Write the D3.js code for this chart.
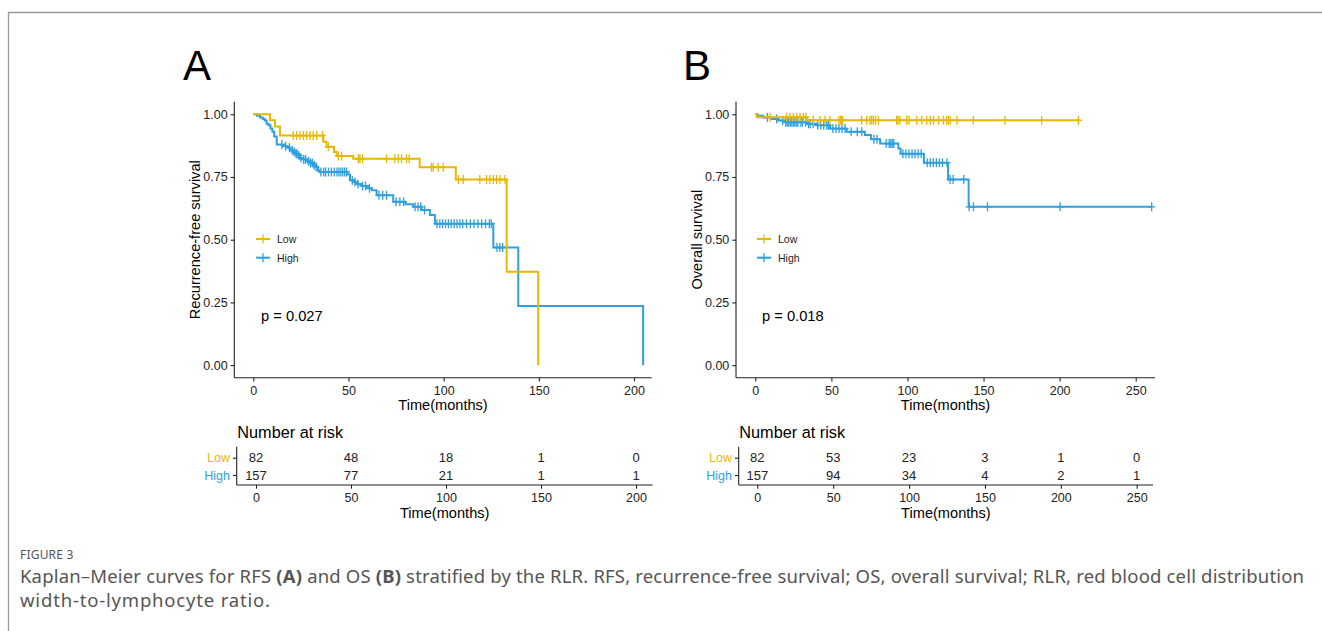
<!DOCTYPE html>
<html>
<head>
<meta charset="utf-8">
<script src="https://cdn.jsdelivr.net/npm/d3@7"></script>
<style>
  body { margin: 0; background: #fff; }
  svg text { font-family: "Liberation Sans", Arial, sans-serif; }
  .caption { font-family: "Noto Sans", "Open Sans", sans-serif; fill: #555; }
</style>
</head>
<body>
<script>
// ---- data ----
const lowColor = '#E7B800';
const highColor = '#2E9FDF';

const survTicks = [0, 0.25, 0.5, 0.75, 1];
const rfsTimeTicks = [0, 50, 100, 150, 200];
const osTimeTicks = [0, 50, 100, 150, 200, 250];
const groups = ['Low', 'High'];

// RFS step points [months, survival]
const rfsLowSteps = [[0,1],[8.8,0.976],[11.4,0.951],[14,0.915],[36.8,0.890],[38.5,0.870],[42.4,0.850],
  [43.8,0.834],[52.5,0.823],[87.4,0.789],[106.4,0.740],[133.1,0.372],[149.7,0]];
const rfsLowCensor = [21,22.8,24.5,26.3,28,29.8,31.5,33.3,36.4,39.4,44.7,46.4,55.2,56,57.4,70,74.4,76.2,
  77.9,80.5,81.9,93.6,94.5,97.1,99.8,107.7,110.3,119,122.5,124.3,126.1,127.8,129.6,132.2];
const rfsHighSteps = [[0,1],[2,0.994],[3.5,0.987],[5,0.981],[6,0.975],[7,0.962],[8,0.956],[9,0.943],
  [10,0.930],[11,0.911],[12.3,0.879],[16,0.872],[18,0.866],[19.3,0.857],[21,0.850],[22,0.843],[23.5,0.836],
  [24.5,0.826],[26,0.820],[28,0.813],[30,0.806],[31.5,0.797],[33,0.790],[34,0.777],[35,0.770],[49.5,0.760],
  [50.8,0.737],[53,0.730],[54.5,0.722],[57,0.714],[60,0.705],[62.2,0.697],[64.8,0.677],[73.5,0.651],
  [80,0.641],[84,0.631],[88.4,0.618],[92.8,0.598],[95.4,0.564],[126.1,0.469],[139.2,0.236],[204.8,0]];
const rfsHighCensor = [15,17,19,20.5,21.5,22.5,23,24,25,26.5,27.5,29,30,31,32,33,35.5,37,38,39.5,41,42.5,
  44,45,46,47,48,49,52,53.5,55,57.5,59,61,66,68,70,75,77,79,85,86.5,88,90,96.5,98,99.5,101,102.5,104,
  105.5,107,108.5,110,112,114,116,118,120,122,124,125,128,129.5,131];
const rfsRiskLow = [82, 48, 18, 1, 0];
const rfsRiskHigh = [157, 77, 21, 1, 1];

// OS step points
const osLowSteps = [[0,1],[1,0.988],[33.8,0.976],[213.4,0.976]];
const osLowCensor = [9.7,20.6,22.8,25,27.2,29.4,31.6,33.3,38.1,42.5,45.8,49.1,55,56,56.8,57.5,69.9,73.2,
  75.4,76.5,77.6,79,80.9,92.9,93.8,95.1,99.5,101,106.1,109.4,112.7,115,117.1,120.4,123.7,125.9,127,128.1,
  132.5,143.3,164.1,188.2,212.3];
const osHighSteps = [[0,1],[1.5,0.994],[5,0.987],[10.8,0.981],[15,0.975],[20,0.968],[33.8,0.962],
  [40,0.956],[49,0.943],[60,0.930],[72,0.917],[76,0.900],[82,0.883],[94,0.863],[95.5,0.843],[110.8,0.807],
  [126.7,0.740],[140.2,0.631],[260.5,0.631]];
const osHighCensor = [8,14,18,20,21,22,23,24,25,26,27,28,30,31,33,35,36,38,41,43,45,47,48,51,53,55,57,59,
  63,67,70,78,80,86,88,89,90,91,97,99,101,103,105,107,109,113,115,117,119,121,123,126,128,130,137,140.5,
  143.4,152.6,200.3,260.5];
const osRiskLow = [82, 53, 23, 3, 1, 0];
const osRiskHigh = [157, 94, 34, 4, 2, 1];

// ---- layout ----
const W = 1322, H = 631;
const svg = d3.select('body').append('svg')
    .attr('width', W)
    .attr('height', H);

svg.append('path')
    .attr('d', 'M8.5,' + H + 'V12.5H' + W)
    .attr('fill', 'none')
    .attr('stroke', '#9a9a9a')
    .attr('stroke-width', 1.3);

const panels = [
  {letter: 'A', lx: 183, ylabel: 'Recurrence-free survival', p: 'p = 0.027',
   axisX: 234.3, axisEnd: 651.7, t0: 253.3, tRef: 200, tRefX: 634,
   riskAxisX: 236.7, riskEnd: 652.7, r0: 256, rRefX: 636,
   ticks: rfsTimeTicks, legX: 256, ylabX: 195,
   curves: [{steps: rfsLowSteps, censor: rfsLowCensor, color: lowColor},
            {steps: rfsHighSteps, censor: rfsHighCensor, color: highColor}],
   risk: [rfsRiskLow, rfsRiskHigh]},
  {letter: 'B', lx: 683, ylabel: 'Overall survival', p: 'p = 0.018',
   axisX: 736, axisEnd: 1155, t0: 755.3, tRef: 250, tRefX: 1135.7,
   riskAxisX: 738.7, riskEnd: 1153, r0: 757.3, rRefX: 1136.7,
   ticks: osTimeTicks, legX: 757, ylabX: 696.7,
   curves: [{steps: osLowSteps, censor: osLowCensor, color: lowColor},
            {steps: osHighSteps, censor: osHighCensor, color: highColor}],
   risk: [osRiskLow, osRiskHigh]}
];

const yTop = 101.7, yBot = 377.7;
const y = d3.scaleLinear().domain([-0.05, 1.05]).range([yBot, yTop]);
const plus = 'M-3.5,0H3.5M0,-4.5V4.5';

function survAt(steps, t) {
  let s = steps[0][1];
  for (const p of steps) { if (p[0] <= t) s = p[1]; }
  return s;
}

panels.forEach(function(cfg) {
  const x = d3.scaleLinear()
      .domain([0, cfg.tRef])
      .range([cfg.t0, cfg.tRefX]);
  const g = svg.append('g');

  g.append('text')
      .attr('x', cfg.lx).attr('y', 80)
      .attr('font-size', 42)
      .attr('fill', '#000')
      .text(cfg.letter);

  // axes
  const xAxis = d3.axisBottom(x).tickValues(cfg.ticks).tickFormat(d3.format('d')).tickSizeOuter(0).tickSize(3.7);
  const yAxis = d3.axisLeft(y).tickValues(survTicks).tickFormat(d3.format('.2f')).tickSizeOuter(0).tickSize(3.7);

  const gx = g.append('g')
      .attr('transform', 'translate(0,' + yBot + ')')
      .call(xAxis);
  gx.select('.domain').attr('d', 'M' + cfg.axisX + ',0H' + cfg.axisEnd);
  const gy = g.append('g')
      .attr('transform', 'translate(' + cfg.axisX + ',0)')
      .call(yAxis);
  gy.select('.domain').attr('d', 'M0,' + yTop + 'V' + yBot);
  g.selectAll('.tick text').attr('font-size', 12.5).attr('fill', '#222')
      .attr('font-family', '"Liberation Sans", Arial, sans-serif');
  gx.selectAll('.tick text').attr('dy', '0.85em');
  g.selectAll('.domain, .tick line').attr('stroke', '#222').attr('stroke-width', 1.1);

  g.append('text')
      .attr('transform', 'translate(' + cfg.ylabX + ',' + ((yTop + yBot) / 2) + ') rotate(-90)')
      .attr('text-anchor', 'middle')
      .attr('dominant-baseline', 'central')
      .attr('font-size', 14.6)
      .text(cfg.ylabel);
  g.append('text')
      .attr('x', (cfg.axisX + cfg.axisEnd) / 2).attr('y', 410)
      .attr('text-anchor', 'middle')
      .attr('font-size', 14.6)
      .text('Time(months)');

  // curves
  const line = d3.line()
      .x(d => x(d[0]))
      .y(d => y(d[1]))
      .curve(d3.curveStepAfter);
  cfg.curves.slice().reverse().forEach(function(c) {
    g.append('path')
        .datum(c.steps)
        .attr('d', line)
        .attr('fill', 'none')
        .attr('stroke', c.color)
        .attr('stroke-width', 2);
    g.selectAll(null)
        .data(c.censor)
        .enter().append('path')
        .attr('d', plus)
        .attr('transform', d => 'translate(' + x(d) + ',' + y(survAt(c.steps, d)) + ')')
        .attr('stroke', c.color)
        .attr('stroke-width', 1.3)
        .attr('fill', 'none');
  });

  // legend
  const legY = [239, 257.7];
  groups.forEach(function(name, i) {
    const c = cfg.curves[i];
    g.append('path')
        .attr('d', 'M' + cfg.legX + ',' + legY[i] + 'H' + (cfg.legX + 14))
        .attr('stroke', c.color).attr('stroke-width', 2);
    g.append('path')
        .attr('d', plus)
        .attr('transform', 'translate(' + (cfg.legX + 7) + ',' + legY[i] + ')')
        .attr('stroke', c.color).attr('stroke-width', 1.3);
    g.append('text')
        .attr('x', cfg.legX + 21).attr('y', legY[i])
        .attr('dominant-baseline', 'central')
        .attr('font-size', 10.5)
        .attr('fill', '#222')
        .text(name);
  });

  g.append('text')
      .attr('x', cfg.legX + 5).attr('y', 321)
      .attr('font-size', 14.7)
      .text(cfg.p);

  // risk table
  const xr = d3.scaleLinear()
      .domain([0, cfg.tRef])
      .range([cfg.r0, cfg.rRefX]);
  const rowY = d3.scalePoint().domain(groups).range([457.7, 475]);
  const rTop = 446.7, rBot = 485;

  g.append('text')
      .attr('x', cfg.riskAxisX + 0.6).attr('y', 437.5)
      .attr('font-size', 16.3)
      .text('Number at risk');

  const rx = g.append('g')
      .attr('transform', 'translate(0,' + rBot + ')')
      .call(d3.axisBottom(xr).tickValues(cfg.ticks).tickFormat(d3.format('d')).tickSizeOuter(0).tickSize(3.7));
  rx.select('.domain').attr('d', 'M' + cfg.riskAxisX + ',0H' + cfg.riskEnd);
  rx.selectAll('.tick text').attr('dy', '0.85em');
  const ry = g.append('g')
      .attr('transform', 'translate(' + cfg.riskAxisX + ',0)')
      .call(d3.axisLeft(rowY).tickSizeOuter(0).tickSize(3.7));
  ry.select('.domain').attr('d', 'M0,' + rTop + 'V' + rBot);
  ry.selectAll('.tick text').attr('fill', (d, i) => cfg.curves[i].color);
  [rx, ry].forEach(function(a) {
    a.selectAll('.tick text').attr('font-size', 12.5)
        .attr('font-family', '"Liberation Sans", Arial, sans-serif');
    a.selectAll('.domain, .tick line').attr('stroke', '#222').attr('stroke-width', 1.1);
  });
  rx.selectAll('.tick text').attr('fill', '#222');

  groups.forEach(function(name, i) {
    g.selectAll(null)
        .data(cfg.risk[i])
        .enter().append('text')
        .attr('x', (d, j) => xr(cfg.ticks[j]))
        .attr('y', rowY(name))
        .attr('text-anchor', 'middle')
        .attr('dominant-baseline', 'central')
        .attr('font-size', 13)
        .attr('fill', '#222')
        .text(d => d);
  });

  g.append('text')
      .attr('x', (cfg.riskAxisX + cfg.riskEnd) / 2).attr('y', 517.5)
      .attr('text-anchor', 'middle')
      .attr('font-size', 14.6)
      .text('Time(months)');
});

// caption
svg.append('text')
    .attr('class', 'caption')
    .attr('x', 20).attr('y', 559)
    .attr('font-size', 12)
    .attr('letter-spacing', 0.2)
    .text('FIGURE 3');
const cap = svg.append('text')
    .attr('class', 'caption')
    .attr('x', 20).attr('y', 583)
    .attr('font-size', 18.5)
    .attr('textLength', 1284)
    .attr('lengthAdjust', 'spacing');
cap.append('tspan').text('Kaplan–Meier curves for RFS ');
cap.append('tspan').attr('font-weight', 'bold').text('(A)');
cap.append('tspan').text(' and OS ');
cap.append('tspan').attr('font-weight', 'bold').text('(B)');
cap.append('tspan').text(' stratified by the RLR. RFS, recurrence-free survival; OS, overall survival; RLR, red blood cell distribution');
svg.append('text')
    .attr('class', 'caption')
    .attr('x', 20).attr('y', 607)
    .attr('font-size', 18.5)
    .attr('textLength', 250)
    .attr('lengthAdjust', 'spacing')
    .text('width-to-lymphocyte ratio.');
</script>
</body>
</html>
